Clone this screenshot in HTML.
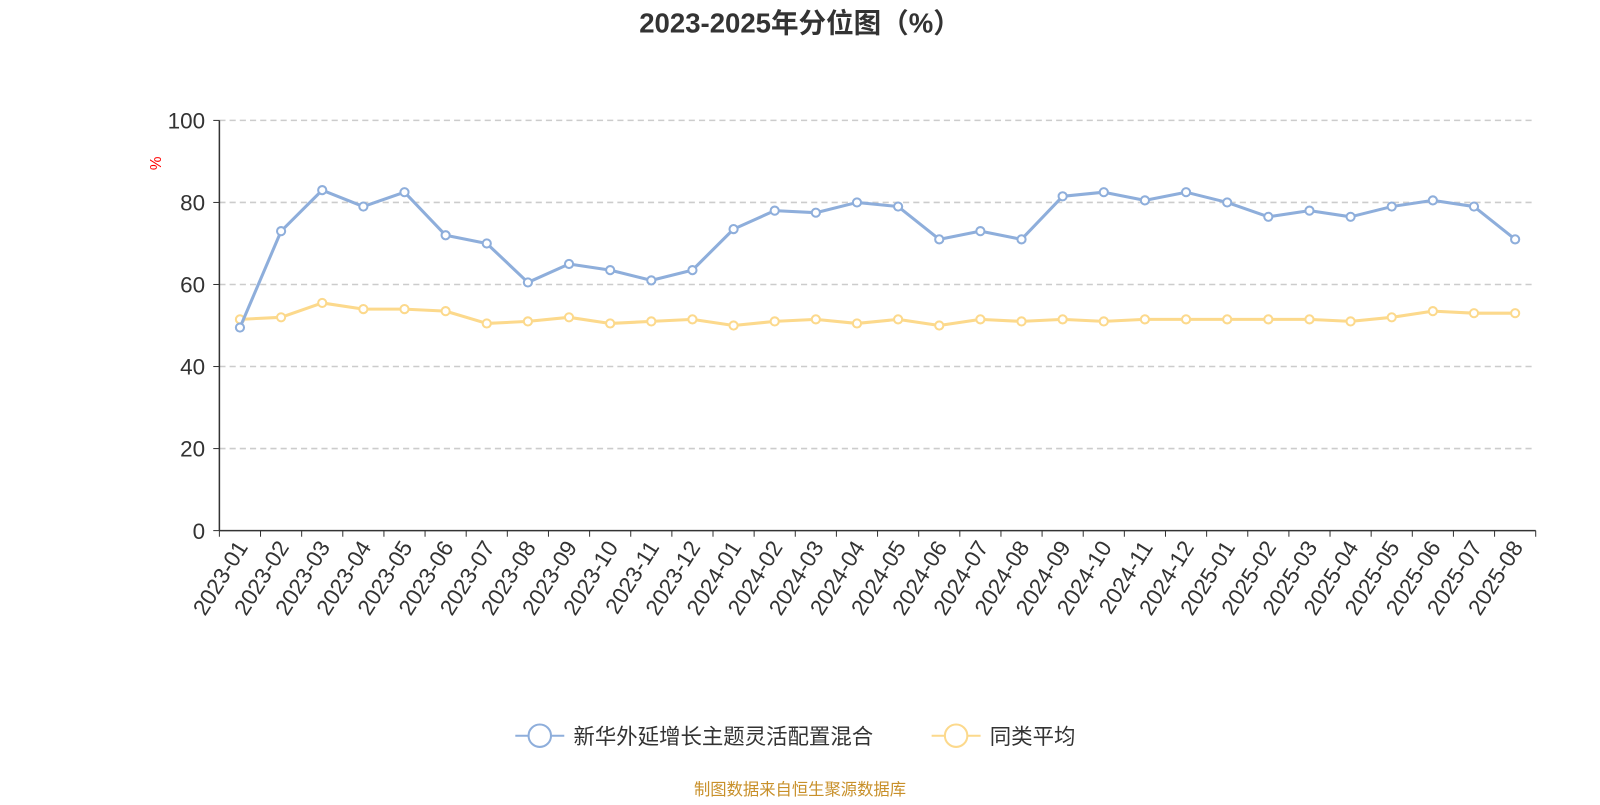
<!DOCTYPE html>
<html><head><meta charset="utf-8"><style>
body{margin:0;background:#fff;width:1600px;height:800px;overflow:hidden;font-family:"Liberation Sans","Noto Sans CJK SC",sans-serif}
</style></head><body>
<svg width="1600" height="800" xmlns="http://www.w3.org/2000/svg" id="svg" font-family="Liberation Sans, Noto Sans CJK SC, sans-serif">
<g transform="scale(1.0204)">
<text x="784" y="32" text-anchor="middle" font-size="27" font-weight="bold" fill="#333">2023-2025年分位图（%）</text>
<text x="158" y="160" font-size="15" fill="red" transform="rotate(-90 158 160)" text-anchor="middle">%</text>
<g id="grid"></g><g id="axes"></g><g id="series"></g>
<g>
<g>
<line x1="505" y1="721" x2="553" y2="721" stroke="#8eaedb" stroke-width="2"/><circle cx="529" cy="721" r="11" fill="#fff" stroke="#8eaedb" stroke-width="2"/>
<text x="562" y="729" font-size="21" fill="#333">新华外延增长主题灵活配置混合</text></g>
<g>
<line x1="913" y1="721" x2="961" y2="721" stroke="#fcd98c" stroke-width="2"/><circle cx="937" cy="721" r="11" fill="#fff" stroke="#fcd98c" stroke-width="2"/>
<text x="970" y="729" font-size="21" fill="#333">同类平均</text></g>
</g>
<text x="784" y="779" text-anchor="middle" font-size="16" fill="#c8902a">制图数据来自恒生聚源数据库</text>
</g>
</svg>
<script>
const categories=["2023-01","2023-02","2023-03","2023-04","2023-05","2023-06","2023-07","2023-08","2023-09","2023-10","2023-11","2023-12","2024-01","2024-02","2024-03","2024-04","2024-05","2024-06","2024-07","2024-08","2024-09","2024-10","2024-11","2024-12","2025-01","2025-02","2025-03","2025-04","2025-05","2025-06","2025-07","2025-08"];
const fundValues=[49.5,73,83,79,82.5,72,70,60.5,65,63.5,61,63.5,73.5,78,77.5,80,79,71,73,71,81.5,82.5,80.5,82.5,80,76.5,78,76.5,79,80.5,79,71];
const avgValues=[51.5,52,55.5,54,54,53.5,50.5,51,52,50.5,51,51.5,50,51,51.5,50.5,51.5,50,51.5,51,51.5,51,51.5,51.5,51.5,51.5,51.5,51,52,53.5,53,53];
const yTicks=[0,20,40,60,80,100];
const NS="http://www.w3.org/2000/svg";
const X0=215,X1=1505,Y0=520,Y1=118;
const bw=(X1-X0)/categories.length;
const xs=i=>X0+bw*(i+0.5);
const ys=v=>Y0-(v/100)*(Y0-Y1);
function mk(t,a,p){const e=document.createElementNS(NS,t);for(const k in a)e.setAttribute(k,a[k]);p.appendChild(e);return e;}
const grid=document.getElementById('grid'),axes=document.getElementById('axes'),ser=document.getElementById('series');
yTicks.forEach(v=>{
 if(v>0){const g=mk('line',{x1:X0,x2:X1,y1:ys(v),y2:ys(v),stroke:'#ccc','stroke-dasharray':'6,4','stroke-width':1.5},grid);
 
 }
 const tk=mk('line',{x1:X0-6,x2:X0,y1:ys(v),y2:ys(v),stroke:'#333'},axes);
 
 
 const t=mk('text',{x:X0-14,y:ys(v)+8,'text-anchor':'end','font-size':22,fill:'#333'},axes);
 t.textContent=v;
 
 
});
const ya=mk('line',{x1:X0,x2:X0,y1:Y1,y2:Y0,stroke:'#333','stroke-width':1.5},axes);


const xa=mk('line',{x1:X0,x2:X1,y1:Y0,y2:Y0,stroke:'#333','stroke-width':1.5},axes);


for(let i=0;i<=categories.length;i++){
 const tk=mk('line',{x1:X0+bw*i,x2:X0+bw*i,y1:Y0,y2:Y0+6,stroke:'#333'},axes);
 
 
}
categories.forEach((c,i)=>{
 const x=xs(i)+2,y=Y0+12;
 const t=mk('text',{x:x,y:y,'text-anchor':'end','font-size':22,fill:'#333',transform:`rotate(-58 ${x} ${y})`,dy:'0.35em'},axes);
 t.textContent=c;
 
 
});
function series(vals,color,name){
 const p=mk('polyline',{points:vals.map((v,i)=>xs(i)+','+ys(v)).join(' '),fill:'none',stroke:color,'stroke-width':3,'stroke-linejoin':'round'},ser);
 
 
 vals.forEach((v,i)=>{
  const c=mk('circle',{cx:xs(i),cy:ys(v),r:4,fill:'#fff',stroke:color,'stroke-width':2},ser);
  
  
 });
}
series(avgValues,'#fcd98c','average');
series(fundValues,'#8eaedb','fund');
</script>
</body></html>
